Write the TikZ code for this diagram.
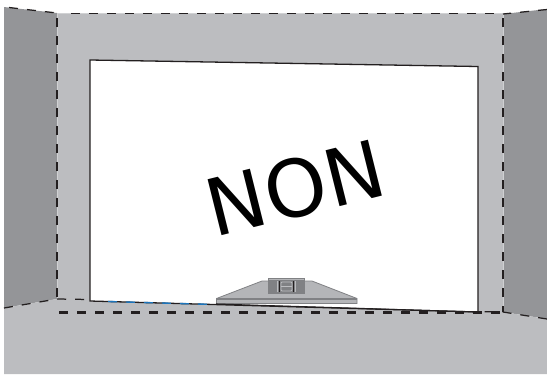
\documentclass[tikz,border=0pt]{standalone}
\usepackage{fontspec}
\setmainfont{DejaVu Sans}
\definecolor{wallc}{HTML}{BCBDC0}
\definecolor{sidec}{HTML}{949598}
\definecolor{inkc}{HTML}{231F20}
\definecolor{stanc}{HTML}{B4B5B8}
\definecolor{stand}{HTML}{808184}
\definecolor{bluec}{HTML}{1C75BC}
\tikzset{
  thindash/.style={draw=inkc,line width=1.25pt,dash pattern=on 9bp off 9bp},
  edge/.style={draw=wallc!70!white,line width=0.5pt},
  thickdash/.style={draw=inkc,line width=2.6pt,dash pattern=on 9bp off 9bp},
}
\begin{document}
\begin{tikzpicture}[x=1bp,y=-1bp]
\useasboundingbox (0,0) rectangle (547,374);
% walls
\fill[wallc] (57,13) -- (503,13) -- (503,313) -- (57,300) -- cycle;
\fill[sidec] (4,7) -- (57,13) -- (57,299) -- (4,308) -- cycle;
\fill[sidec] (503,14) -- (547,9) -- (547,319) -- (503,312) -- cycle;
\fill[wallc] (4,308) -- (57,299) -- (503,312) -- (547,319) -- (547,374) -- (4,374) -- cycle;
\fill[wallc] (57,299) -- (90,299) -- (90,302) -- (57,302) -- cycle;
% screen
\draw[fill=white,draw=inkc,line width=1.3pt] (90,60) -- (478,66.5) -- (478,312) -- (90,301) -- cycle;
\draw[bluec,line width=1.4pt,dash pattern=on 9bp off 9bp] (108,301.5) -- (215,304.5);
% dashed outlines
\draw[edge] (57,13) -- (503,13) -- (503,312);
\draw[edge] (57,13) -- (57,299);
\draw[thindash] (9,7.5) -- (57,13);
\draw[thindash] (71,13.5) -- (503,13.5);
\draw[thindash] (547,9.5) -- (503,14);
\draw[thindash] (57,18) -- (57,299);
\draw[thindash] (503,18) -- (503,312);
\draw[thindash] (4,308) -- (57,299) -- (90,299.5);
\draw[thindash] (547,319) -- (503,312) -- (478,311.5);
% stand
\fill[stanc,draw=stand,line width=0.8pt] (216.5,298.5) -- (262,281) -- (312,281) -- (357,298.5) -- (357,303.5) -- (216.5,303.5) -- cycle;
\fill[stand] (216.5,298) rectangle (357,300);
\fill[stand] (268,278) rectangle (305,294);
\fill[stanc] (269,278.8) rectangle (304,280);
\draw[wallc,line width=0.8pt] (277.5,281) -- (277.5,292);
\draw[wallc,line width=0.8pt] (295,281) -- (295,292);
\draw[wallc,line width=0.8pt,rounded corners=1pt] (281,282) rectangle (292,291);
\draw[wallc,line width=0.7pt] (281,286.5) -- (292,286.5);
\draw[inkc,line width=0.8pt] (279.5,281) -- (279.5,292);
\draw[inkc,line width=0.8pt] (293,281) -- (293,292);
% screen bottom over stand
\draw[inkc,line width=1.1pt] (216,304) -- (478,312);
\draw[thickdash] (59,312.5) -- (503,312.5);
\node[font=\fontsize{79bp}{79bp}\selectfont,rotate=14,text=black,inner sep=0pt] (label) at (295.5,188) {NON};
\end{tikzpicture}
\end{document}
